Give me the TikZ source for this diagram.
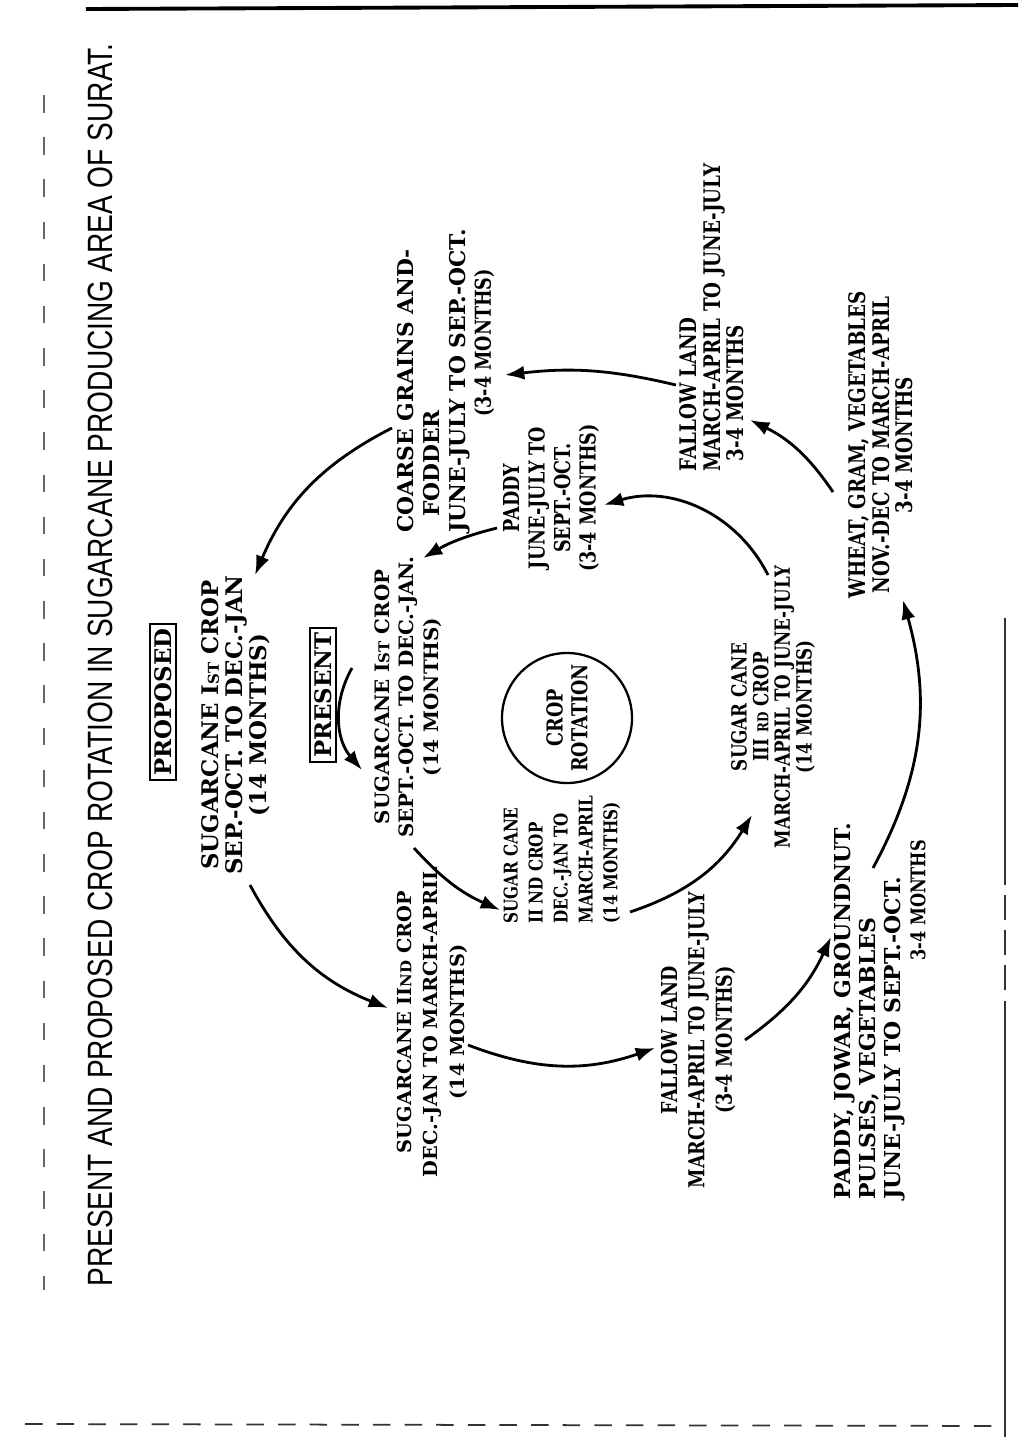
\documentclass[tikz,border=0pt]{standalone}
\usepackage{fontspec}
\setmainfont{DejaVu Serif}
\newfontfamily\cond[FakeStretch=0.8]{DejaVu Serif}
\newfontfamily\titlefont[FakeStretch=0.8]{Liberation Sans}
\usetikzlibrary{arrows.meta}
\newcommand{\smc}[1]{{\fontsize{8.5}{8.5}\selectfont #1}}
\begin{document}
\begin{tikzpicture}[x=0.02cm,y=0.02cm,
  lab/.style 2 args={rotate=90, font=\bfseries\fontsize{#1}{#2}\selectfont, align=center, inner sep=0pt},
  labl/.style 2 args={lab={#1}{#2}, align=left, anchor=west},
  labc/.style 2 args={rotate=90, font=\cond\bfseries\fontsize{#1}{#2}\selectfont, align=center, inner sep=0pt},
  labcl/.style 2 args={labc={#1}{#2}, align=left, anchor=west},
  boxlab/.style={rotate=90, draw, line width=1pt, inner sep=2.5pt, font=\bfseries\fontsize{13}{14}\selectfont},
  arr/.style={line width=1.6pt, -{Latex[length=11pt,width=8pt]}},
  border/.style={line width=1pt, black!80}]
\useasboundingbox (0,0) rectangle (1018,-1437);
% page borders of the scan
\draw[line width=2.2pt] (86,-9) -- (1018,-5);
\draw[border] (1005,-618) -- (1005,-860);
\draw[border, dash pattern=on 14pt off 6pt] (1005,-860) -- (1005,-1010);
\draw[border] (1005,-1010) -- (1005,-1437);
\draw[border, dash pattern=on 10pt off 8pt] (25,-1424) -- (1000,-1426);
\draw[line width=0.8pt, black!60, dash pattern=on 10pt off 14pt] (44,-95) -- (44,-1290);
% title
\node[rotate=90, inner sep=0pt, font=\titlefont\fontsize{20}{22}\selectfont] (title) at (100,-665)
  {PRESENT AND PROPOSED CROP ROTATION IN SUGARCANE PRODUCING AREA OF SURAT.};
% labels
\node[boxlab] (proposed) at (163,-702) {PROPOSED};
\node[boxlab] (present) at (323,-695) {PRESENT};
% proposed (outer ring)
\node[lab={13}{13.6}] (psc1) at (236,-725) {SUGARCANE I\smc{ST} CROP\\SEP.-OCT. TO DEC.-JAN\\(14 MONTHS)};
\node[lab={11}{15}] (psc2) at (432,-1022) {SUGARCANE II\smc{ND} CROP\\DEC.-JAN TO MARCH-APRIL\\(14 MONTHS)};
\node[labc={12.5}{15.6}] (pfal1) at (698,-1040) {FALLOW LAND\\MARCH-APRIL TO JUNE-JULY\\(3-4 MONTHS)};
\node[labl={12.5}{14.2}] (ppad) at (880,-1200) {PADDY, JOWAR, GROUNDNUT.\\PULSES, VEGETABLES\\JUNE-JULY TO SEPT.-OCT.\\\hspace*{136pt}{\cond\fontsize{11.5}{14.2}\selectfont 3-4 MONTHS}};
\node[labc={13}{13.3}] (pwht) at (881,-445) {WHEAT, GRAM, VEGETABLES\\NOV.-DEC TO MARCH-APRIL\\3-4 MONTHS};
\node[labcl={13}{13.3}] (pfal2) at (712,-472) {FALLOW LAND\\MARCH-APRIL TO JUNE-JULY\\\hspace*{6pt}3-4 MONTHS};
\node[labl={12.4}{14.6}] (pcoarse) at (446,-533) {COARSE GRAINS AND-\\\hspace*{9pt}FODDER\\JUNE-JULY TO SEP.-OCT.\\\hspace*{66pt}{\cond\fontsize{12.5}{14.6}\selectfont (3-4 MONTHS)}};
% present (inner ring)
\node[lab={11.3}{13.9}] (sc1) at (408,-697) {SUGARCANE I\smc{ST} CROP\\SEPT.-OCT. TO DEC.-JAN.\\(14 MONTHS)};
\node[labcl={10.8}{14.2}] (sc2) at (562,-924) {SUGAR CANE\\II ND CROP\\DEC.-JAN TO\\MARCH-APRIL\\(14 MONTHS)};
\node[labc={11.9}{12.3}] (sc3) at (773,-707) {SUGAR CANE\\III \smc{RD} CROP\\MARCH-APRIL TO JUNE-JULY\\(14 MONTHS)};
\node[labc={12.5}{14.5}] (pad) at (551,-498) {PADDY\\JUNE-JULY TO\\SEPT.-OCT.\\(3-4 MONTHS)};
% centre
\node[draw, circle, line width=1.3pt, minimum size=130*0.02cm, inner sep=0pt,
      rotate=90, font=\cond\bfseries\fontsize{12.5}{14.2}\selectfont, align=center] (rot) at (567,-718) {CROP\\ROTATION};
% arrow end points
\coordinate (a1s) at (392,-428); \coordinate (a1e) at (255,-575);
\coordinate (a2s) at (250,-885); \coordinate (a2e) at (388,-1008);
\coordinate (a3s) at (468,-1045); \coordinate (a3e) at (655,-1048);
\coordinate (a4s) at (745,-1040); \coordinate (a4e) at (831,-937);
\coordinate (a5s) at (873,-868); \coordinate (a5e) at (903,-600);
\coordinate (a6s) at (833,-492); \coordinate (a6e) at (750,-420);
\coordinate (a7s) at (676,-385); \coordinate (a7e) at (505,-375);
\coordinate (b1s) at (414,-848); \coordinate (b1e) at (500,-910);
\coordinate (b2s) at (630,-912); \coordinate (b2e) at (752,-815);
\coordinate (b3s) at (768,-575); \coordinate (b3e) at (604,-505);
\coordinate (b4s) at (497,-528); \coordinate (b4e) at (423,-558);
\coordinate (b5s) at (352,-668); \coordinate (b5e) at (362,-770);
% outer ring arrows
\draw[arr] (a1s) to[bend right=20] (a1e);
\draw[arr] (a2s) to[bend right=20] (a2e);
\draw[arr] (a3s) to[bend right=20] (a3e);
\draw[arr] (a4s) to[bend right=15] (a4e);
\draw[arr] (a5s) to[bend right=22] (a5e);
\draw[arr] (a6s) to[bend right=15] (a6e);
\draw[arr] (a7s) to[bend right=10] (a7e);
% inner ring arrows
\draw[arr] (b1s) to[bend right=12] (b1e);
\draw[arr] (b2s) to[bend right=20] (b2e);
\draw[arr] (b3s) to[bend right=40] (b3e);
\draw[arr] (b4s) to[bend right=8] (b4e);
\draw[arr] (b5s) to[bend right=35] (b5e);
\end{tikzpicture}
\end{document}
